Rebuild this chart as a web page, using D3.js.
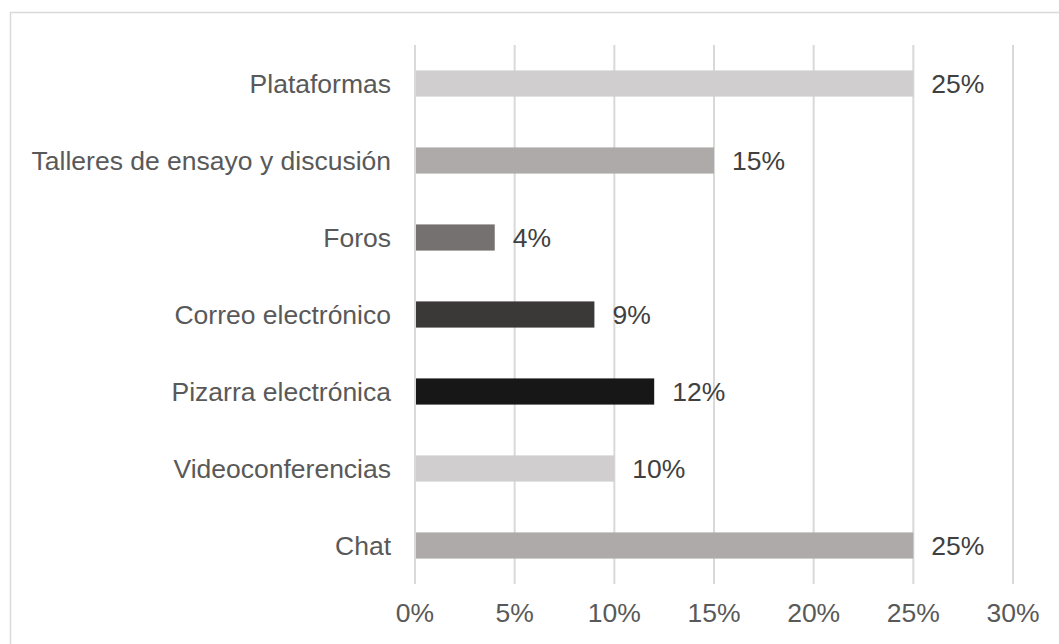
<!DOCTYPE html>
<html>
<head>
<meta charset="utf-8">
<script src="https://cdn.jsdelivr.net/npm/d3@7"></script>
<style>
  html, body { margin: 0; padding: 0; background: #ffffff; }
  svg { display: block; font-family: "Liberation Sans", Arial, Helvetica, sans-serif; }
</style>
</head>
<body>
<svg id="chart" width="1059" height="644"></svg>
<script>
// Herramientas utilizadas (porcentaje)
const categories = [
  "Plataformas",
  "Talleres de ensayo y discusión",
  "Foros",
  "Correo electrónico",
  "Pizarra electrónica",
  "Videoconferencias",
  "Chat"
];
const values = [25, 15, 4, 9, 12, 10, 25];
const barColors = ["#d0cece", "#aeaaaa", "#767171", "#3b3838", "#171717", "#d0cece", "#aeaaaa"];
const ticks = [0, 5, 10, 15, 20, 25, 30];

const svg = d3.select("#chart");
const W = 1059, H = 644;

// chart frame
svg.append("rect")
  .attr("x", 10.5).attr("y", 12.5)
  .attr("width", W + 20).attr("height", H + 20)
  .attr("fill", "none")
  .attr("stroke", "#d9d9d9")
  .attr("stroke-width", 1.5);

const x = d3.scaleLinear().domain([0, 30]).range([415, 1013]);
const y = d3.scaleBand().domain(categories).range([45, 584])
  .paddingInner(0.66).paddingOuter(0.33);

// vertical gridlines
svg.append("g").selectAll("line")
  .data(ticks)
  .join("line")
  .attr("x1", d => x(d)).attr("x2", d => x(d))
  .attr("y1", 45).attr("y2", 584)
  .attr("stroke", "#d9d9d9")
  .attr("stroke-width", 2);

// bars
svg.append("g").selectAll("rect")
  .data(categories)
  .join("rect")
  .attr("x", x(0) + 1)
  .attr("y", d => y(d))
  .attr("width", (d, i) => x(values[i]) - x(0) - 1)
  .attr("height", y.bandwidth())
  .attr("fill", (d, i) => barColors[i]);

const fontSize = 26.5;
const textColor = "#595959";

// category labels
svg.append("g").selectAll("text")
  .data(categories)
  .join("text")
  .attr("x", 391)
  .attr("y", d => y(d) + y.bandwidth() / 2)
  .attr("dy", "0.35em")
  .attr("text-anchor", "end")
  .attr("font-size", fontSize)
  .attr("fill", textColor)
  .text(d => d);

// value labels
svg.append("g").selectAll("text")
  .data(categories)
  .join("text")
  .attr("x", (d, i) => x(values[i]) + 18)
  .attr("y", d => y(d) + y.bandwidth() / 2)
  .attr("dy", "0.35em")
  .attr("font-size", fontSize)
  .attr("fill", "#404040")
  .text((d, i) => values[i] + "%");

// x axis tick labels
svg.append("g").selectAll("text")
  .data(ticks)
  .join("text")
  .attr("x", d => x(d))
  .attr("y", 613)
  .attr("dy", "0.35em")
  .attr("text-anchor", "middle")
  .attr("font-size", fontSize)
  .attr("fill", textColor)
  .text(d => d + "%");
</script>
</body>
</html>
